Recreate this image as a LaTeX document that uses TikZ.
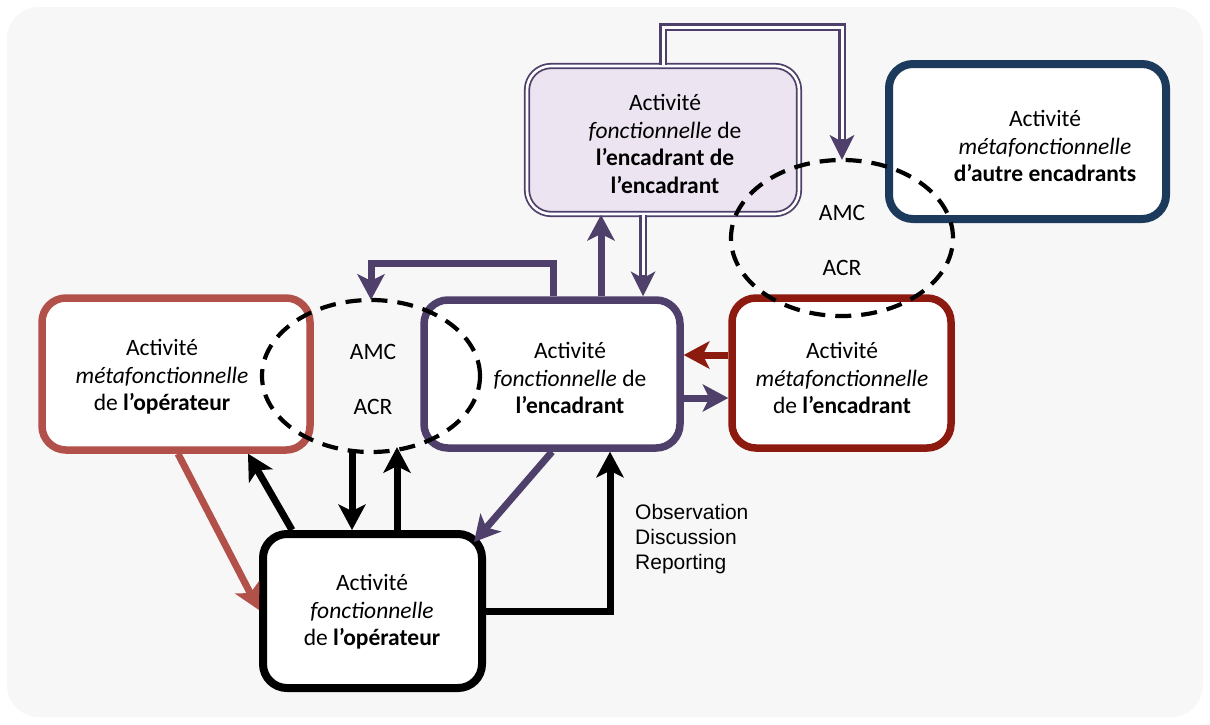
\documentclass[tikz,border=0pt]{standalone}
\usepackage{fontspec}
\setmainfont{Carlito}
\newfontfamily\arialf{Liberation Sans}
\usetikzlibrary{arrows.meta,shapes.geometric,calc}
\definecolor{bgc}{HTML}{F7F7F7}
\definecolor{purp}{HTML}{4F3F6B}
\definecolor{lav}{HTML}{ECE4F0}
\definecolor{redb}{HTML}{B2514A}
\definecolor{dred}{HTML}{8C1A0F}
\definecolor{navy}{HTML}{1B3A5C}
\tikzset{
  boxnode/.style={draw, line width=7.5pt, rounded corners=24pt, fill=white, inner sep=0pt},
  txt/.style={font=\fontsize{23.5}{27.5}\selectfont, align=center, inner sep=0pt},
  ellnode/.style={ellipse, inner sep=0pt},
  dashell/.style={draw=black, line width=4.2pt, dash pattern=on 16pt off 10pt},
  arr/.style={line width=7pt, -{Stealth[length=26pt,width=28pt,inset=7pt,line width=0pt]}},
  dblout/.style={purp, line width=8pt, -{Stealth[length=25pt,width=25pt,inset=7pt,line width=0pt]}},
  dblin/.style={white, line width=3pt, shorten >=21pt},
}
\begin{document}
\begin{tikzpicture}[x=1pt,y=-1pt]
\useasboundingbox (0,0) rectangle (1210,724);
\fill[white] (0,0) rectangle (1210,724);
\fill[bgc, rounded corners=32pt] (7,7) rectangle (1203,717);

% boxes
\node[boxnode, draw=purp, fill=lav, line width=1.8pt, double=white, double distance=2.6pt, minimum width=272pt, minimum height=148pt] (tbox) at (663,140) {};
\node[boxnode, draw=navy, line width=8pt, minimum width=277pt, minimum height=155pt] (nbox) at (1027.5,141.5) {};
\node[boxnode, draw=redb, minimum width=268pt, minimum height=152pt] (lbox) at (176,374) {};
\node[boxnode, draw=purp, minimum width=256pt, minimum height=148pt] (cbox) at (552,374) {};
\node[boxnode, draw=dred, minimum width=219pt, minimum height=150pt] (rbox) at (841.5,373) {};
\node[boxnode, draw=black, line width=8pt, minimum width=219pt, minimum height=154pt] (bbox) at (372.5,611) {};

% texts
\node[txt] (ttxt) at (665,144) {Activit\'e\\\textit{fonctionnelle} de\\\textbf{l’encadrant de}\\\textbf{l’encadrant}};
\node[txt] (ntxt) at (1045,146) {Activit\'e\\\textit{m\'etafonctionnelle}\\\textbf{d’autre encadrants}};
\node[txt] (ltxt) at (162,377) {Activit\'e\\\textit{m\'etafonctionnelle}\\de \textbf{l’op\'erateur}};
\node[txt] (ctxt) at (570,378) {Activit\'e\\\textit{fonctionnelle} de\\\textbf{l’encadrant}};
\node[txt] (rtxt) at (842,378) {Activit\'e\\\textit{m\'etafonctionnelle}\\de \textbf{l’encadrant}};
\node[txt] (btxt) at (372,612) {Activit\'e\\\textit{fonctionnelle}\\de \textbf{l’op\'erateur}};
\node[font=\arialf\fontsize{21}{25}\selectfont, align=left, anchor=west, inner sep=0pt] (obs) at (635,539) {Observation\\Discussion\\Reporting};

% ellipses (for anchors)
\node[ellnode, minimum width=218pt, minimum height=152pt] (ellL) at (371,376) {};
\node[ellnode, minimum width=222pt, minimum height=156pt] (ellR) at (842,238) {};
\node[txt] (amcL) at (373,352) {AMC};
\node[txt] (acrL) at (373,407) {ACR};
\node[txt] (amcR) at (842,213) {AMC};
\node[txt] (acrR) at (842,268) {ACR};

% double arrows
\draw[dblout] (tbox.north -| 663,0) |- (ellR.north |- 0,27) -- (ellR.north);
\draw[dblin] (tbox.north -| 663,0) |- (ellR.north |- 0,27) -- (ellR.north);
\draw[dblout] (tbox.south -| 643,0) -- (cbox.north -| 643,0);
\draw[dblin] (tbox.south -| 643,0) -- (cbox.north -| 643,0);

% purple arrows
\draw[arr, purp] (cbox.north -| 601,0) -- (tbox.south -| 601,0);
\draw[arr, purp] (cbox.north -| 553,0) |- (ellL.north |- 0,263) -- (ellL.north);
\draw[arr, purp] (cbox.east |- 0,398) -- (rbox.west |- 0,398);
\draw[arr, purp] (cbox.south -| 552,0) -- ($(bbox.north east)+(-12,12)$);
% dark red
\draw[arr, dred] (rbox.west |- 0,355) -- (cbox.east |- 0,355);
% red brown
\draw[arr, redb] (lbox.south -| 178,0) -- (bbox.west |- 0,610);
% black
\draw[arr, black] (bbox.north -| 292,0) -- (lbox.south -| 248,0);
\draw[arr, black] (ellL.south -| 352,0) -- (bbox.north -| 352,0);
\draw[arr, black] (bbox.north -| 397,0) -- ($(ellL.south -| 397,0)+(0,-5)$);
\draw[arr, black] (bbox.east) -| (cbox.south -| 610,0);

% dashed ellipses on top
\draw[dashell] (ellL.center) ellipse [x radius=109pt, y radius=76pt];
\draw[dashell] (ellR.center) ellipse [x radius=111pt, y radius=78pt];
\end{tikzpicture}
\end{document}
